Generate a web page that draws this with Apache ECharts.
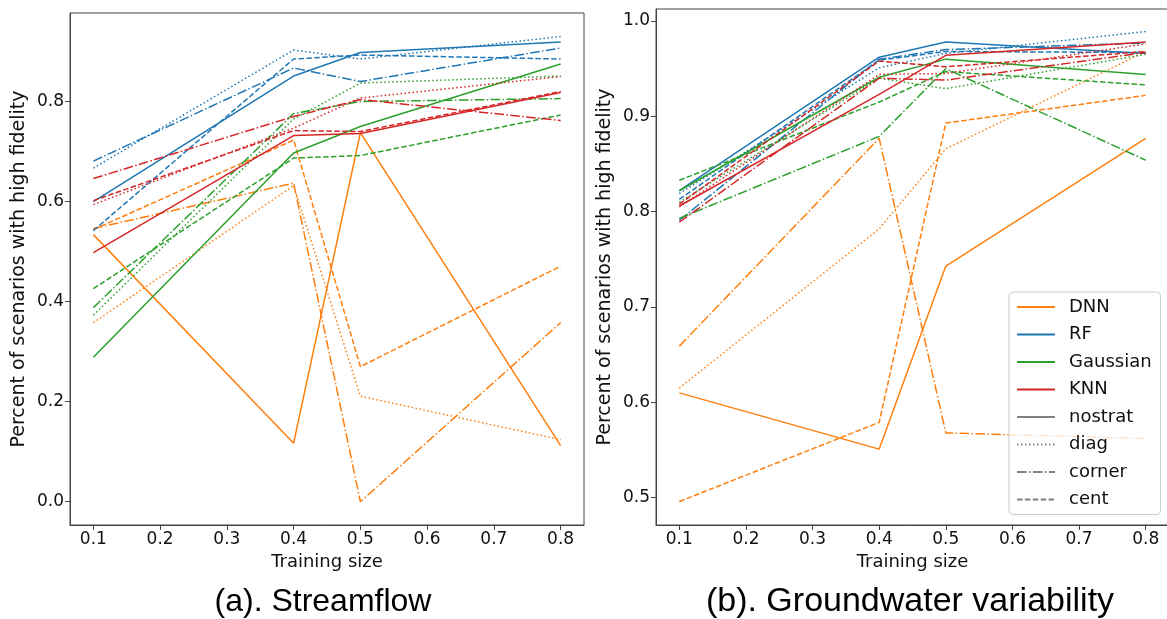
<!DOCTYPE html>
<html>
<head>
<meta charset="utf-8">
<script src="https://cdn.jsdelivr.net/npm/echarts@6/dist/echarts.min.js"></script>
<style>
html,body{margin:0;padding:0;background:#fff;}
#chart{width:1167px;height:619px;}
</style>
</head>
<body>
<div id="chart"></div>
<script>
// ---- data ----
const trainingSizes = [0.1, 0.4, 0.5, 0.8];
const xTicks = [0.1, 0.2, 0.3, 0.4, 0.5, 0.6, 0.7, 0.8];
const yTicksStream = [0.0, 0.2, 0.4, 0.6, 0.8];
const yTicksGround = [0.5, 0.6, 0.7, 0.8, 0.9, 1.0];
const models = ['DNN', 'RF', 'Gaussian', 'KNN'];
const strategies = ['nostrat', 'diag', 'corner', 'cent'];

// Streamflow: rows = nostrat, diag, corner, cent
const streamDNN = [
  [0.534, 0.117, 0.738, 0.112],
  [0.358, 0.632, 0.211, 0.124],
  [0.546, 0.637, 0.000, 0.358],
  [0.544, 0.723, 0.270, 0.471]
];
const streamRF = [
  [0.600, 0.851, 0.898, 0.919],
  [0.667, 0.903, 0.885, 0.930],
  [0.681, 0.867, 0.840, 0.907],
  [0.542, 0.885, 0.893, 0.885]
];
const streamGaussian = [
  [0.289, 0.697, 0.750, 0.875],
  [0.373, 0.765, 0.837, 0.851],
  [0.388, 0.776, 0.800, 0.806],
  [0.426, 0.687, 0.692, 0.773]
];
const streamKNN = [
  [0.498, 0.732, 0.736, 0.818],
  [0.594, 0.747, 0.807, 0.850],
  [0.646, 0.770, 0.804, 0.762],
  [0.602, 0.742, 0.740, 0.820]
];

// Groundwater variability
const groundDNN = [
  [0.610, 0.551, 0.743, 0.877],
  [0.615, 0.782, 0.866, 0.968],
  [0.659, 0.877, 0.568, 0.562],
  [0.496, 0.579, 0.893, 0.922]
];
const groundRF = [
  [0.822, 0.962, 0.978, 0.966],
  [0.819, 0.951, 0.966, 0.989],
  [0.791, 0.960, 0.970, 0.977],
  [0.813, 0.959, 0.968, 0.967]
];
const groundGaussian = [
  [0.822, 0.941, 0.960, 0.944],
  [0.810, 0.940, 0.929, 0.965],
  [0.793, 0.879, 0.950, 0.854],
  [0.833, 0.915, 0.947, 0.933]
];
const groundKNN = [
  [0.806, 0.923, 0.964, 0.978],
  [0.805, 0.944, 0.945, 0.976],
  [0.789, 0.940, 0.938, 0.967],
  [0.808, 0.958, 0.952, 0.968]
];

// ---- styling ----
const modelColors = {DNN: '#ff7f0e', RF: '#1f77b4', Gaussian: '#2ca02c', KNN: '#d62728'};
const dashTypes = {
  nostrat: 'solid',
  diag: [1.5, 2.5],
  corner: [9.6, 2.4, 1.5, 2.4],
  cent: [5.5, 2.4]
};
const streamData = {DNN: streamDNN, RF: streamRF, Gaussian: streamGaussian, KNN: streamKNN};
const groundData = {DNN: groundDNN, RF: groundRF, Gaussian: groundGaussian, KNN: groundKNN};

const series = [];
function addPanel(dataMap, idx) {
  models.forEach(m => {
    strategies.forEach((s, si) => {
      series.push({
        name: m + ' ' + s,
        type: 'line',
        xAxisIndex: idx, yAxisIndex: idx,
        data: trainingSizes.map((x, i) => [x, dataMap[m][si][i]]),
        symbol: 'none',
        lineStyle: {color: modelColors[m], width: 1.5, type: dashTypes[s]},
        itemStyle: {color: modelColors[m]},
        emphasis: {disabled: true},
        silent: true,
        z: 2
      });
    });
  });
}
addPanel(streamData, 0);
addPanel(groundData, 1);

// legend proxies (right panel)
models.forEach(m => series.push({
  name: m, type: 'line', xAxisIndex: 1, yAxisIndex: 1, data: [], symbol: 'none',
  lineStyle: {color: modelColors[m], width: 1.5}, itemStyle: {color: modelColors[m]}
}));
strategies.forEach(s => series.push({
  name: s, type: 'line', xAxisIndex: 1, yAxisIndex: 1, data: [], symbol: 'none',
  lineStyle: {color: '#808080', width: 1.5, type: dashTypes[s]}, itemStyle: {color: '#808080'}
}));

const tickFont = {fontFamily: 'DejaVu Sans', fontSize: 17, color: '#111'};
function xAxis(gi) {
  return {
    type: 'value', gridIndex: gi, min: 0.065, max: 0.835,
    name: 'Training size', nameLocation: 'middle', nameGap: 28,
    nameTextStyle: {fontFamily: 'DejaVu Sans', fontSize: 18, color: '#111'},
    axisLine: {show: true, onZero: false, lineStyle: {color: '#444', width: 1}},
    axisTick: {show: true, customValues: xTicks, length: 5, lineStyle: {color: '#444'}},
    axisLabel: Object.assign({customValues: xTicks, margin: 6, formatter: v => v.toFixed(1)}, tickFont),
    splitLine: {show: false}
  };
}
function yAxis(gi, min, max, ticks, gap) {
  return {
    type: 'value', gridIndex: gi, min: min, max: max,
    name: 'Percent of scenarios with high fidelity', nameLocation: 'middle', nameGap: gap, nameRotate: 90,
    nameTextStyle: {fontFamily: 'DejaVu Sans', fontSize: 19, color: '#111'},
    axisLine: {show: true, onZero: false, lineStyle: {color: '#444', width: 1}},
    axisTick: {show: true, customValues: ticks, length: 5, lineStyle: {color: '#444'}},
    axisLabel: Object.assign({customValues: ticks, margin: 6, formatter: v => v.toFixed(1)}, tickFont),
    splitLine: {show: false}
  };
}

const chart = echarts.init(document.getElementById('chart'), null, {renderer: 'canvas'});
chart.setOption({
  animation: false,
  backgroundColor: '#ffffff',
  grid: [
    {left: 70, top: 13, width: 514, height: 512, show: true, borderColor: '#444', borderWidth: 1,
     backgroundColor: 'transparent', containLabel: false, outerBoundsMode: 'none'},
    {left: 656, top: 9, width: 513, height: 516, show: true, borderColor: '#444', borderWidth: 1,
     backgroundColor: 'transparent', containLabel: false, outerBoundsMode: 'none'}
  ],
  xAxis: [xAxis(0), xAxis(1)],
  yAxis: [
    yAxis(0, -0.0465, 0.977, yTicksStream, 41),
    yAxis(1, 0.4714, 1.0126, yTicksGround, 41)
  ],
  legend: {
    data: models.concat(strategies),
    orient: 'vertical',
    left: 1009, top: 292,
    itemWidth: 38, itemHeight: 14, itemGap: 9.5,
    padding: [6, 9, 6, 7],
    backgroundColor: 'rgba(255,255,255,0.8)',
    borderColor: '#cccccc', borderWidth: 1, borderRadius: 4,
    itemStyle: {opacity: 0},
    textStyle: {fontFamily: 'DejaVu Sans', fontSize: 18, color: '#111', padding: [0, 0, 0, 9]},
    selectedMode: false
  },
  graphic: [
    {type: 'text', x: 323, y: 602, style: {text: '(a). Streamflow', font: '32px "Liberation Sans"', fill: '#000', textAlign: 'center', textVerticalAlign: 'middle'}},
    {type: 'text', x: 910, y: 602, style: {text: '(b). Groundwater variability', font: '34px "Liberation Sans"', fill: '#000', textAlign: 'center', textVerticalAlign: 'middle'}}
  ],
  series: series
});
</script>
</body>
</html>
